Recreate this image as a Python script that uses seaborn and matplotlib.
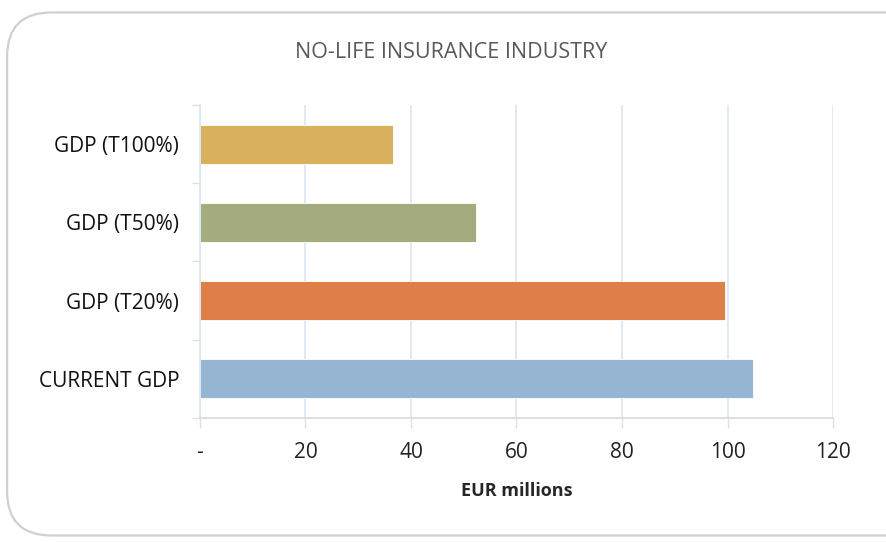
import matplotlib
matplotlib.use("Agg")
import matplotlib.pyplot as plt
from matplotlib.patches import FancyBboxPatch
from matplotlib.ticker import FixedLocator
import seaborn as sns
import pandas as pd

# data
categories = ["GDP (T100%)", "GDP (T50%)", "GDP (T20%)", "CURRENT GDP"]
values = [36.6, 52.3, 99.5, 104.8]
bar_colors = ["#D9B05E", "#A3AB7F", "#DE7F48", "#95B5D3"]
x_ticks = [0, 20, 40, 60, 80, 100, 120]
x_tick_labels = ["-", "20", "40", "60", "80", "100", "120"]

df = pd.DataFrame({"category": categories, "value": values})

sns.set_theme(style="white")
plt.rcParams["font.family"] = ["Open Sans", "DejaVu Sans"]

fig = plt.figure(figsize=(8.86, 5.42), dpi=100)
ax = fig.add_axes([0.2257, 0.2288, 0.7145, 0.5775])

# rounded frame around the chart
frame = FancyBboxPatch((0.008, 0.012), 1.2, 0.965, transform=fig.transFigure,
                       boxstyle="round,pad=0,rounding_size=0.05",
                       facecolor="white", edgecolor="#D0D0D0", linewidth=1.6,
                       mutation_aspect=886 / 542, zorder=-10)
fig.patches.append(frame)

sns.barplot(data=df, x="value", y="category", hue="category", palette=bar_colors,
            orient="h", width=0.5, legend=False, ax=ax, saturation=1,
            edgecolor="white", linewidth=0.6)

ax.set_xlim(0, 120)
ax.set_ylim(3.5, -0.5)
ax.set_xticks(x_ticks)
ax.set_xticklabels(x_tick_labels, fontsize=15, color="#222222")
ax.tick_params(axis="y", labelsize=15, labelcolor="#111111", length=0, pad=15)
ax.yaxis.set_minor_locator(FixedLocator([-0.5, 0.5, 1.5, 2.5, 3.5]))
ax.tick_params(axis="y", which="minor", left=True, length=6, color="#D9E2EC", width=1)
ax.tick_params(axis="x", bottom=True, length=7, color="#D9E2EC", width=1, pad=10)
ax.set_ylabel("")
ax.set_xlabel("EUR millions", fontsize=13, fontweight="bold", labelpad=14)

ax.grid(axis="x", color="#DCE5F0", linewidth=1.2)
ax.set_axisbelow(True)
for side in ["top", "right"]:
    ax.spines[side].set_visible(False)
ax.spines["left"].set_color("#DCE5F0")
ax.spines["bottom"].set_color("#D9D9D9")
ax.spines["bottom"].set_linewidth(1.2)

fig.text(0.509, 0.903, "NO-LIFE INSURANCE INDUSTRY", ha="center", va="center",
         fontsize=15.5, color="#595959")

fig.savefig("out.png", dpi=100)
